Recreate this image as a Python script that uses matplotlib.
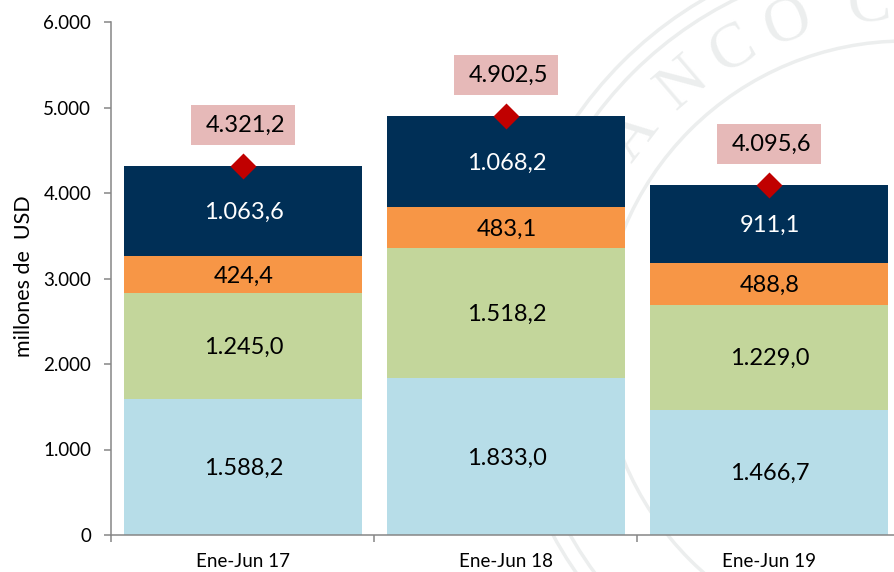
import numpy as np
import matplotlib
matplotlib.use('Agg')
import matplotlib.pyplot as plt
from matplotlib.patches import Circle, Rectangle

# datos
periodos = ['Ene-Jun 17', 'Ene-Jun 18', 'Ene-Jun 19']
serie_1 = [1588.2, 1833.0, 1466.7]
serie_2 = [1245.0, 1518.2, 1229.0]
serie_3 = [424.4, 483.1, 488.8]
serie_4 = [1063.6, 1068.2, 911.1]
totales = [4321.2, 4902.5, 4095.6]

etiq_1 = ['1.588,2', '1.833,0', '1.466,7']
etiq_2 = ['1.245,0', '1.518,2', '1.229,0']
etiq_3 = ['424,4', '483,1', '488,8']
etiq_4 = ['1.063,6', '1.068,2', '911,1']
etiq_tot = ['4.321,2', '4.902,5', '4.095,6']

colores = ['#b7dde8', '#c3d69b', '#f79646', '#002f56']
colores_txt = ['black', 'black', 'black', 'white']

plt.rcParams['font.family'] = ['Lato', 'DejaVu Sans']

fig = plt.figure(figsize=(8.95, 5.72), dpi=100)
# el eje x continua un poco mas alla del borde de la figura
ax = fig.add_axes([111.5 / 895, (572 - 535) / 572, 789 / 895, 513 / 572])

# marca de agua del fondo
sello = fig.add_axes([0, 0, 1, 1], zorder=-1)
sello.set_xlim(0, 895)
sello.set_ylim(572, 0)
sello.axis('off')
for r, lw in [(400, 2.5), (385, 2.5), (304, 2.5)]:
    sello.add_patch(Circle((905, 345), r, fill=False, ec='#eceeee', lw=lw))
for letra, ang in [('B', 63), ('A', 52.4), ('N', 40.5), ('C', 30.2), ('O', 20), ('C', 6)]:
    a = np.radians(ang)
    sello.text(905 - 342 * np.sin(a), 345 - 342 * np.cos(a), letra, fontsize=46,
               color='#eceeee', rotation=ang, ha='center', va='center',
               family='Liberation Serif')

ax.patch.set_alpha(0)
x = np.arange(len(periodos))
ancho = 0.905

abajo = np.zeros(3)
for vals, etiq, col, col_txt in zip([serie_1, serie_2, serie_3, serie_4],
                                    [etiq_1, etiq_2, etiq_3, etiq_4], colores, colores_txt):
    vals = np.array(vals)
    ax.bar(x, vals, ancho, bottom=abajo, color=col, zorder=2)
    for i in range(3):
        ax.annotate(etiq[i], (x[i], abajo[i] + vals[i] / 2), xytext=(0.5, -1),
                    textcoords='offset points', ha='center', va='center',
                    fontsize=17, color=col_txt, zorder=4)
    abajo = abajo + vals

ax.scatter(x, totales, marker='D', s=175, color='#c00000', linewidths=0, zorder=5, clip_on=False)
for i in range(3):
    ax.add_patch(Rectangle((x[i] - 0.198, totales[i] + 245), 0.396, 467,
                           fc='#e6b9b8', ec='none', zorder=3))
    ax.annotate(etiq_tot[i], (x[i], totales[i] + 478), xytext=(2, -0.5),
                textcoords='offset points', ha='center', va='center',
                fontsize=17, color='black', zorder=4)

ax.set_xlim(-0.5, 2.5)
ax.set_ylim(0, 6000)
ax.set_xticks([-0.5, 0.5, 1.5, 2.5])
ax.set_xticklabels([])
ax.set_xticks(x, minor=True)
ax.set_xticklabels(periodos, minor=True, fontsize=13.5)
ax.tick_params(axis='x', which='minor', length=0, pad=13)
ax.tick_params(axis='x', which='major', length=5, direction='out', color='#868686', width=1.1)
ax.set_yticks(np.arange(0, 6001, 1000))
ax.set_yticklabels(['0', '1.000', '2.000', '3.000', '4.000', '5.000', '6.000'], fontsize=13.5)
ax.tick_params(axis='y', length=5, direction='out', color='#868686', width=1.1, pad=9.5)
ax.set_ylabel('millones de  USD', fontsize=15.5)
ax.yaxis.set_label_coords((34 - 111.5) / 789, 0.504)

for lado in ['top', 'right']:
    ax.spines[lado].set_visible(False)
for lado in ['left', 'bottom']:
    ax.spines[lado].set_color('#868686')
    ax.spines[lado].set_linewidth(1.1)

fig.savefig('out.png', dpi=100)
